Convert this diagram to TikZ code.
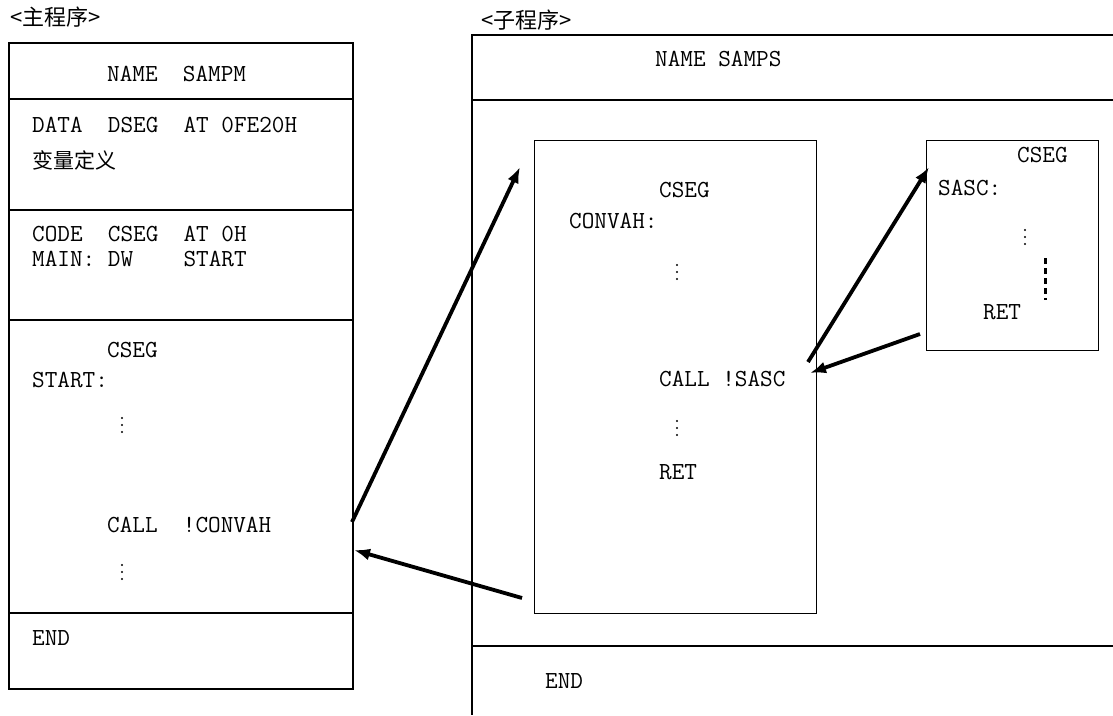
\documentclass[tikz,border=0pt]{standalone}
\usepackage{fontspec}
\newfontfamily\cjk{Noto Sans CJK SC}
\usetikzlibrary{arrows.meta}
\begin{document}
\begin{tikzpicture}[x=1pt,y=-1pt,
  code/.style={anchor=base west,inner sep=0pt,font=\ttfamily\fontsize{24.5}{28}\selectfont},
  cn/.style={anchor=base west,inner sep=0pt,font=\cjk\fontsize{21}{25}\selectfont},
  ttl/.style={anchor=base west,inner sep=0pt,font=\cjk\fontsize{22}{26}\selectfont},
  frame/.style={draw,line width=2pt},
  sepline/.style={line width=1.3pt},
  innerbox/.style={draw,line width=1.3pt,inner sep=0pt,anchor=north west},
  callarrow/.style={line width=3.8pt,-{Latex[length=16pt,width=12pt]}},
  dashv/.style={line width=3pt,dash pattern=on 6pt off 4pt},
]
\useasboundingbox (0,0) rectangle (1113,715);

% ---------- main program ----------
\node[ttl] (tmain) at (10,25) {<主程序>};
\node[frame,inner sep=0pt,anchor=north west,minimum width=344pt,minimum height=646pt] (mainbox) at (8,42) {};
\draw[sepline] (8,99) -- (352,99);
\draw[sepline] (8,210) -- (352,210);
\draw[sepline] (8,320) -- (352,320);
\draw[sepline] (8,613) -- (352,613);

\node[code] (m1) at (107,81) {NAME\ \ SAMPM};
\node[code] (m2) at (32,132) {DATA\ \ DSEG\ \ AT\ 0FE20H};
\node[cn] (m3) at (32,168) {变量定义};
\node[code] (m4) at (32,241) {CODE\ \ CSEG\ \ AT\ 0H};
\node[code] (m5) at (32,266.5) {MAIN:\ DW\ \ \ \ START};
\node[code] (m6) at (107,357) {CSEG};
\node[code] (m7) at (32,387) {START:};
\node[code] (m8) at (107,532) {CALL\ \ !CONVAH};
\node[code] (m9) at (32,645) {END};

% ---------- sub program ----------
\node[ttl] (tsub) at (481,28) {<子程序>};
\coordinate (otl) at (472,35);
\draw[frame] (1113,35) -- (otl) -- (472,715);
\draw[sepline] (472,100) -- (1113,100);
\draw[sepline] (472,646) -- (1113,646);
\node[code] (s1) at (655,66) {NAME SAMPS};
\node[code] (s9) at (545,688) {END};

\node[innerbox,minimum width=282pt,minimum height=473pt] (convbox) at (534,140) {};
\node[code] (c1) at (659,197) {CSEG};
\node[code] (c2) at (569,228) {CONVAH:};
\node[code] (c3) at (659,386) {CALL !SASC};
\node[code] (c4) at (659,479) {RET};

\node[innerbox,minimum width=172pt,minimum height=210pt] (sascbox) at (926,140) {};
\node[code] (a1) at (1017,162) {CSEG};
\node[code] (a2) at (938,195) {SASC:};
\node[code] (a3) at (983,319) {RET};
\draw[dashv] (1045,258) -- (1045,300);

% vertical ellipses
\foreach \p in {(122,425),(122,572),(677,272),(677,428),(1025,237)}
  \foreach \dy in {-7,0,7}
    \fill \p ++(0,\dy) circle (1.2pt);

% ---------- connectors ----------
\coordinate (k1s) at (352,522);
\coordinate (k1e) at (520,167);
\coordinate (k2s) at (522,598);
\coordinate (k2e) at (354,550);
\coordinate (k3s) at (808,362);
\coordinate (k3e) at (929,167);
\coordinate (k4s) at (920,334);
\coordinate (k4e) at (810,373);
\draw[callarrow] (k1s) -- (k1e);
\draw[callarrow] (k2s) -- (k2e);
\draw[callarrow] (k3s) -- (k3e);
\draw[callarrow] (k4s) -- (k4e);
\end{tikzpicture}
\end{document}
